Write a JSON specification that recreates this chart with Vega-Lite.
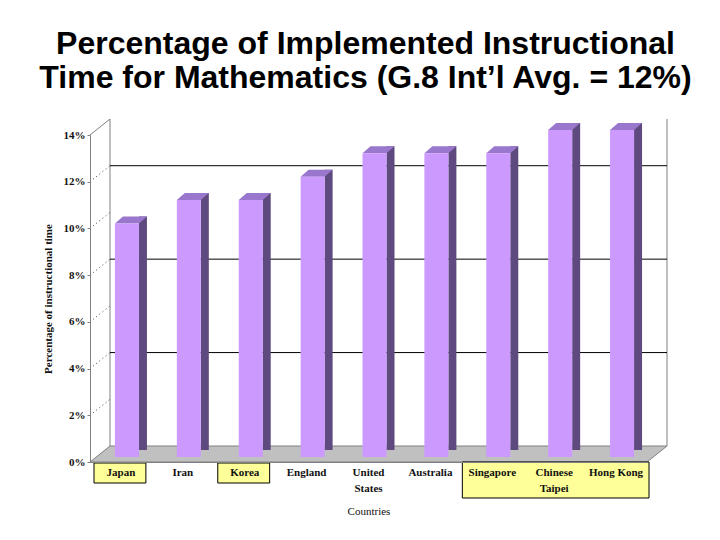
{
  "$schema": "https://vega.github.io/schema/vega-lite/v6.json",
  "width": 557,
  "height": 327,
  "autosize": "none",
  "padding": {"left": 90, "top": 135, "right": 73, "bottom": 78},
  "background": "white",
  "title": {
    "text": ["Percentage of Implemented Instructional", "Time for Mathematics (G.8 Int’l Avg. = 12%)"],
    "font": "Liberation Sans",
    "fontSize": 32,
    "fontWeight": "bold",
    "lineHeight": 34,
    "color": "#000000",
    "anchor": "middle",
    "dx": -3,
    "offset": 22
  },
  "datasets": {
    "bars": [
      {"country": "Japan", "pct": 10},
      {"country": "Iran", "pct": 11},
      {"country": "Korea", "pct": 11},
      {"country": "England", "pct": 12},
      {"country": "United States", "pct": 13},
      {"country": "Australia", "pct": 13},
      {"country": "Singapore", "pct": 13},
      {"country": "Chinese Taipei", "pct": 14},
      {"country": "Hong Kong", "pct": 14}
    ],
    "grid": [{"v": 4}, {"v": 8}, {"v": 12}],
    "ticks": [{"v": 2}, {"v": 4}, {"v": 6}, {"v": 8}, {"v": 10}, {"v": 12}],
    "boxes": [
      {"from": "Japan", "to": "Japan", "kind": "single"},
      {"from": "Korea", "to": "Korea", "kind": "single"},
      {"from": "Singapore", "to": "Hong Kong", "kind": "group"}
    ]
  },
  "layer": [
    {
      "data": {"values": [{"v": 0}]},
      "mark": {"type": "point", "shape": "M-278.5,0L278.5,0L298.5,-16L-258.5,-16Z", "size": 4, "filled": true, "fill": "#c0c0c0", "stroke": "#808080", "strokeWidth": 1, "opacity": 1},
      "encoding": {
        "y": {
          "field": "v",
          "type": "quantitative",
          "scale": {"domain": [0, 14], "nice": false},
          "axis": {
            "title": "Percentage of instructional time",
            "titleFont": "Liberation Serif",
            "titleFontSize": 11,
            "titleFontWeight": "bold",
            "titleColor": "#111111",
            "titlePadding": 10,
            "values": [0, 2, 4, 6, 8, 10, 12, 14],
            "labelExpr": "datum.value + '%'",
            "labelFont": "Liberation Serif",
            "labelFontSize": 11,
            "labelFontWeight": "bold",
            "labelColor": "#111111",
            "labelPadding": 2,
            "tickSize": 3,
            "tickColor": "#808080",
            "domainColor": "#808080",
            "grid": false,
            "zindex": 2
          }
        }
      }
    },
    {
      "data": {"values": [{"v": 0}]},
      "mark": {"type": "point", "shape": "M-278.5,-327L-258.5,-343L-258.5,-16M298.5,-343L298.5,-16", "size": 4, "filled": false, "stroke": "#808080", "strokeWidth": 1, "opacity": 1},
      "encoding": {"y": {"field": "v", "type": "quantitative"}}
    },
    {
      "data": {"name": "ticks"},
      "mark": {"type": "point", "shape": "M-278.5,0L-258.5,-16", "size": 4, "filled": false, "stroke": "#404040", "strokeWidth": 1, "strokeDash": [1, 3], "opacity": 1},
      "encoding": {"y": {"field": "v", "type": "quantitative"}}
    },
    {
      "data": {"name": "grid"},
      "mark": {"type": "rule", "color": "#000000", "strokeWidth": 1, "xOffset": 20, "x2Offset": 20, "yOffset": -16},
      "encoding": {
        "x": {"datum": "Japan", "type": "nominal", "bandPosition": 0},
        "x2": {"datum": "Hong Kong", "bandPosition": 1},
        "y": {"field": "v", "type": "quantitative"}
      }
    },
    {
      "data": {"name": "boxes"},
      "transform": [{"filter": "datum.kind == 'single'"}],
      "mark": {"type": "rect", "fill": "#ffff99", "stroke": "#000000", "strokeWidth": 1, "xOffset": 4, "x2Offset": -6, "yOffset": 1, "y2Offset": 21},
      "encoding": {
        "x": {"field": "from", "type": "nominal", "bandPosition": 0},
        "x2": {"field": "to", "bandPosition": 1},
        "y": {"datum": 0, "type": "quantitative"},
        "y2": {"datum": 0}
      }
    },
    {
      "data": {"name": "boxes"},
      "transform": [{"filter": "datum.kind == 'group'"}],
      "mark": {"type": "rect", "fill": "#ffff99", "stroke": "#000000", "strokeWidth": 1, "xOffset": 1, "x2Offset": 2, "yOffset": 0, "y2Offset": 36},
      "encoding": {
        "x": {"field": "from", "type": "nominal", "bandPosition": 0},
        "x2": {"field": "to", "bandPosition": 1},
        "y": {"datum": 0, "type": "quantitative"},
        "y2": {"datum": 0}
      }
    },
    {
      "data": {"name": "bars"},
      "mark": {"type": "bar", "width": 8, "color": "#5f4a80", "xOffset": 22, "yOffset": -12},
      "encoding": {
        "x": {"field": "country", "type": "nominal"},
        "y": {"field": "pct", "type": "quantitative"}
      }
    },
    {
      "data": {"name": "bars"},
      "mark": {"type": "point", "shape": "M-12,0L12,0L20,-7L-4,-7Z", "size": 4, "filled": true, "fill": "#9977cc", "strokeWidth": 0, "opacity": 1, "xOffset": 6, "yOffset": -5},
      "encoding": {
        "x": {"field": "country", "type": "nominal"},
        "y": {"field": "pct", "type": "quantitative"}
      }
    },
    {
      "data": {"name": "bars"},
      "mark": {"type": "bar", "width": 24, "color": "#cc99ff", "xOffset": 6, "yOffset": -5},
      "encoding": {
        "x": {
          "field": "country",
          "type": "nominal",
          "sort": null,
          "scale": {"domain": ["Japan", "Iran", "Korea", "England", "United States", "Australia", "Singapore", "Chinese Taipei", "Hong Kong"], "paddingInner": 0, "paddingOuter": 0},
          "axis": {
            "title": "Countries",
            "titleFont": "Liberation Serif",
            "titleFontSize": 11,
            "titleFontWeight": "normal",
            "titleColor": "#111111",
            "titlePadding": 12,
            "labelFont": "Liberation Serif",
            "labelFontSize": 11,
            "labelFontWeight": "bold",
            "labelColor": "#111111",
            "labelAngle": 0,
            "labelAlign": "center",
            "labelPadding": 10,
            "labelLineHeight": 16,
            "labelExpr": "datum.value == 'United States' ? ['United', 'States'] : datum.value == 'Chinese Taipei' ? ['Chinese', 'Taipei'] : datum.value",
            "ticks": false,
            "domainColor": "#808080",
            "zindex": 2
          }
        },
        "y": {"field": "pct", "type": "quantitative"}
      }
    }
  ],
  "config": {"view": {"stroke": null}}
}
